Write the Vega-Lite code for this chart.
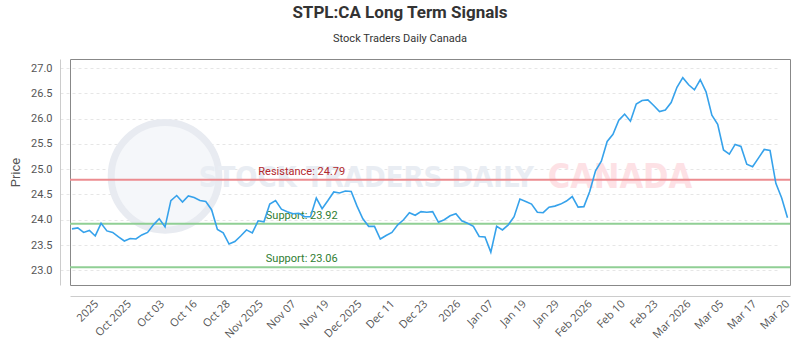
{
  "$schema": "https://vega.github.io/schema/vega-lite/v6.json",
  "width": 720,
  "height": 226,
  "autosize": {"type": "none"},
  "padding": {"left": 70, "top": 59, "right": 10, "bottom": 65},
  "background": "white",
  "title": {
    "text": "STPL:CA Long Term Signals",
    "subtitle": "Stock Traders Daily Canada",
    "anchor": "middle",
    "dx": -30,
    "offset": 14,
    "font": "Roboto",
    "fontSize": 17,
    "fontWeight": "bold",
    "color": "#333333",
    "subtitleFont": "Roboto",
    "subtitleFontSize": 11,
    "subtitleColor": "#333333",
    "subtitlePadding": 11
  },
  "config": {
    "view": {"stroke": "#888888", "strokeWidth": 1},
    "text": {"font": "Roboto"},
    "axis": {"labelOverlap": false, "labelFlush": false},
    "axisX": {
      "labelAngle": -45,
      "labelAlign": "right",
      "labelBaseline": "middle",
      "labelOverlap": false,
      "labelFlush": false,
      "labelBound": false,
      "offset": 11,
      "domainColor": "#cccccc",
      "ticks": false,
      "grid": false,
      "labelPadding": 6,
      "labelFont": "Open Sans",
      "labelFontSize": 11,
      "labelColor": "#555555"
    },
    "axisY": {
      "labelOverlap": false,
      "offset": 10,
      "domainColor": "#cccccc",
      "ticks": false,
      "labelPadding": 8,
      "labelFont": "Roboto",
      "labelFontSize": 11,
      "labelColor": "#555555",
      "titleFont": "Roboto",
      "titleFontSize": 13,
      "titleFontWeight": "normal",
      "titleColor": "#555555",
      "titlePadding": 8,
      "grid": true,
      "gridDash": [3, 3],
      "gridColor": "#e6e6e6"
    }
  },
  "datasets": {
    "prices": [
      {"i": 0, "price": 23.82}, {"i": 1, "price": 23.84}, {"i": 2, "price": 23.75}, {"i": 3, "price": 23.79},
      {"i": 4, "price": 23.68}, {"i": 5, "price": 23.93}, {"i": 6, "price": 23.78}, {"i": 7, "price": 23.75},
      {"i": 8, "price": 23.66}, {"i": 9, "price": 23.58}, {"i": 10, "price": 23.63}, {"i": 11, "price": 23.62},
      {"i": 12, "price": 23.70}, {"i": 13, "price": 23.75}, {"i": 14, "price": 23.90}, {"i": 15, "price": 24.02},
      {"i": 16, "price": 23.86}, {"i": 17, "price": 24.38}, {"i": 18, "price": 24.48}, {"i": 19, "price": 24.35},
      {"i": 20, "price": 24.47}, {"i": 21, "price": 24.44}, {"i": 22, "price": 24.38}, {"i": 23, "price": 24.36},
      {"i": 24, "price": 24.20}, {"i": 25, "price": 23.81}, {"i": 26, "price": 23.74}, {"i": 27, "price": 23.52},
      {"i": 28, "price": 23.57}, {"i": 29, "price": 23.68}, {"i": 30, "price": 23.80}, {"i": 31, "price": 23.74},
      {"i": 32, "price": 23.98}, {"i": 33, "price": 23.96}, {"i": 34, "price": 24.31}, {"i": 35, "price": 24.38},
      {"i": 36, "price": 24.21}, {"i": 37, "price": 24.16}, {"i": 38, "price": 24.12}, {"i": 39, "price": 24.13},
      {"i": 40, "price": 24.06}, {"i": 41, "price": 24.06}, {"i": 42, "price": 24.43}, {"i": 43, "price": 24.22},
      {"i": 44, "price": 24.38}, {"i": 45, "price": 24.55}, {"i": 46, "price": 24.53}, {"i": 47, "price": 24.57},
      {"i": 48, "price": 24.56}, {"i": 49, "price": 24.27}, {"i": 50, "price": 24.02}, {"i": 51, "price": 23.87},
      {"i": 52, "price": 23.87}, {"i": 53, "price": 23.62}, {"i": 54, "price": 23.69}, {"i": 55, "price": 23.75},
      {"i": 56, "price": 23.90}, {"i": 57, "price": 24.00}, {"i": 58, "price": 24.14}, {"i": 59, "price": 24.09},
      {"i": 60, "price": 24.16}, {"i": 61, "price": 24.15}, {"i": 62, "price": 24.16}, {"i": 63, "price": 23.95},
      {"i": 64, "price": 24.00}, {"i": 65, "price": 24.08}, {"i": 66, "price": 24.12}, {"i": 67, "price": 23.98},
      {"i": 68, "price": 23.93}, {"i": 69, "price": 23.87}, {"i": 70, "price": 23.67}, {"i": 71, "price": 23.66},
      {"i": 72, "price": 23.36}, {"i": 73, "price": 23.87}, {"i": 74, "price": 23.80}, {"i": 75, "price": 23.90},
      {"i": 76, "price": 24.06}, {"i": 77, "price": 24.41}, {"i": 78, "price": 24.36}, {"i": 79, "price": 24.31},
      {"i": 80, "price": 24.15}, {"i": 81, "price": 24.14}, {"i": 82, "price": 24.25}, {"i": 83, "price": 24.27},
      {"i": 84, "price": 24.31}, {"i": 85, "price": 24.37}, {"i": 86, "price": 24.46}, {"i": 87, "price": 24.25},
      {"i": 88, "price": 24.26}, {"i": 89, "price": 24.56}, {"i": 90, "price": 24.97}, {"i": 91, "price": 25.16},
      {"i": 92, "price": 25.55}, {"i": 93, "price": 25.69}, {"i": 94, "price": 25.97}, {"i": 95, "price": 26.09},
      {"i": 96, "price": 25.95}, {"i": 97, "price": 26.29}, {"i": 98, "price": 26.36}, {"i": 99, "price": 26.37},
      {"i": 100, "price": 26.26}, {"i": 101, "price": 26.14}, {"i": 102, "price": 26.17}, {"i": 103, "price": 26.32},
      {"i": 104, "price": 26.62}, {"i": 105, "price": 26.81}, {"i": 106, "price": 26.67}, {"i": 107, "price": 26.57},
      {"i": 108, "price": 26.77}, {"i": 109, "price": 26.53}, {"i": 110, "price": 26.07}, {"i": 111, "price": 25.89},
      {"i": 112, "price": 25.38}, {"i": 113, "price": 25.30}, {"i": 114, "price": 25.49}, {"i": 115, "price": 25.45},
      {"i": 116, "price": 25.10}, {"i": 117, "price": 25.05}, {"i": 118, "price": 25.22}, {"i": 119, "price": 25.39},
      {"i": 120, "price": 25.37}, {"i": 121, "price": 24.72}, {"i": 122, "price": 24.43}, {"i": 123, "price": 24.04}
    ],
    "levels": [
      {"kind": "Resistance", "price": 24.79, "label": "Resistance: 24.79"},
      {"kind": "Support", "price": 23.92, "label": "Support: 23.92"},
      {"kind": "Support", "price": 23.06, "label": "Support: 23.06"}
    ],
    "watermark": [
      {"text": "STOCK TRADERS DAILY", "brand": "Stock Traders Daily"},
      {"text": "CANADA", "brand": "Canada"}
    ]
  },
  "resolve": {"scale": {"color": "independent"}},
  "layer": [
    {
      "data": {"values": [{"logo": "Stock Traders Daily"}]},
      "mark": {"type": "point", "shape": "circle", "size": 11600, "filled": false, "stroke": "#e8ebf1", "strokeWidth": 7, "fill": "#f5f7fa", "fillOpacity": 1, "opacity": 1},
      "encoding": {
        "x": {"datum": 16, "type": "quantitative", "title": null},
        "y": {"datum": 24.86, "type": "quantitative", "title": "Price"}
      }
    },
    {
      "data": {"name": "watermark"},
      "transform": [{"filter": "datum.brand === 'Stock Traders Daily'"}],
      "mark": {"type": "text", "font": "DejaVu Sans Condensed", "fontWeight": "bold", "fontSize": 29, "color": "#e9edf3", "align": "center", "baseline": "middle"},
      "encoding": {
        "x": {"datum": 50.6, "type": "quantitative", "title": null},
        "y": {"datum": 24.83, "type": "quantitative", "title": "Price"},
        "text": {"field": "text"}
      }
    },
    {
      "data": {"name": "watermark"},
      "transform": [{"filter": "datum.brand === 'Canada'"}],
      "mark": {"type": "text", "font": "DejaVu Sans Condensed", "fontWeight": "bold", "fontSize": 34, "color": "#fde1e5", "align": "center", "baseline": "middle"},
      "encoding": {
        "x": {"datum": 94.2, "type": "quantitative", "title": null},
        "y": {"datum": 24.83, "type": "quantitative", "title": "Price"},
        "text": {"field": "text"}
      }
    },
    {
      "data": {"name": "levels"},
      "mark": {"type": "rule", "strokeWidth": 2},
      "encoding": {
        "y": {"field": "price", "type": "quantitative", "title": "Price"},
        "color": {"field": "kind", "type": "nominal", "scale": {"domain": ["Resistance", "Support"], "range": ["#ec8c90", "#90cf95"]}, "legend": null}
      }
    },
    {
      "data": {"name": "levels"},
      "mark": {"type": "text", "align": "center", "baseline": "bottom", "dy": -3, "fontSize": 11, "font": "Roboto"},
      "encoding": {
        "x": {"datum": 39.5, "type": "quantitative", "title": null},
        "y": {"field": "price", "type": "quantitative", "title": "Price"},
        "text": {"field": "label"},
        "color": {"field": "kind", "type": "nominal", "scale": {"domain": ["Resistance", "Support"], "range": ["#b3282d", "#2f7d32"]}, "legend": null}
      }
    },
    {
      "data": {"name": "prices"},
      "mark": {"type": "line", "color": "#36a2eb", "strokeWidth": 1.6},
      "encoding": {
        "x": {
          "field": "i",
          "type": "quantitative",
          "title": null,
          "scale": {"domain": [-0.34, 123.43], "nice": false, "zero": false},
          "axis": {
            "values": [4.21, 9.87, 15.52, 21.18, 26.84, 32.5, 38.15, 43.81, 49.47, 55.12, 60.78, 66.44, 72.09, 77.75, 83.41, 89.07, 94.72, 100.38, 106.04, 111.69, 117.35, 123.0],
            "tickCount": 60,
            "labelExpr": "['2025','Oct 2025','Oct 03','Oct 16','Oct 28','Nov 2025','Nov 07','Nov 19','Dec 2025','Dec 11','Dec 23','2026','Jan 07','Jan 19','Jan 29','Feb 2026','Feb 10','Feb 23','Mar 2026','Mar 05','Mar 17','Mar 20'][round((datum.value-4.21)/5.657)]",
            "labelOverlap": false
          }
        },
        "y": {
          "field": "price",
          "type": "quantitative",
          "title": "Price",
          "scale": {"domain": [22.71, 27.18], "nice": false, "zero": false},
          "axis": {
            "values": [23, 23.5, 24, 24.5, 25, 25.5, 26, 26.5, 27],
            "tickCount": 30,
            "format": ".1f",
            "labelOverlap": false
          }
        }
      }
    }
  ]
}
